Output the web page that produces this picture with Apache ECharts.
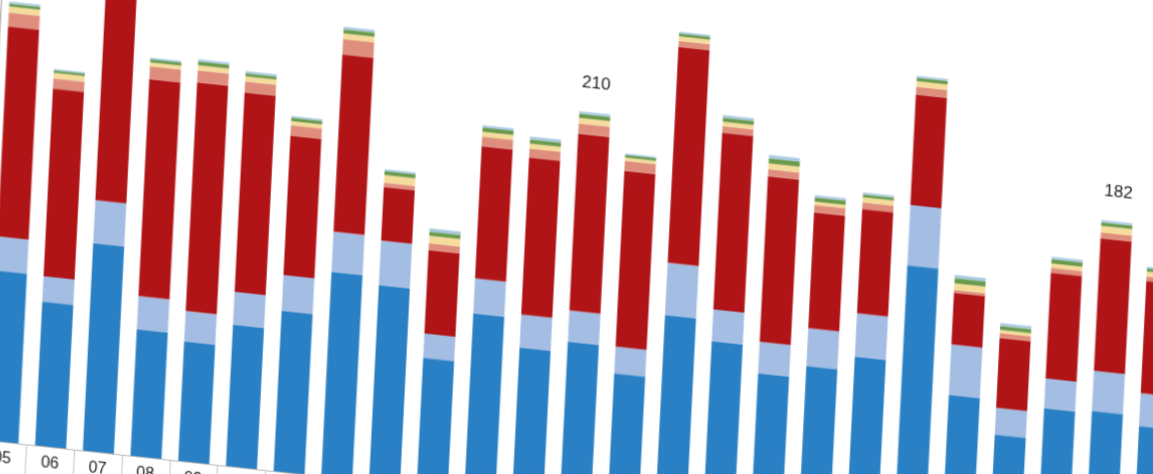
<!DOCTYPE html>
<html>
<head>
<meta charset="utf-8">
<script src="https://cdn.jsdelivr.net/npm/echarts@6/dist/echarts.min.js"></script>
<style>
  html, body { margin: 0; padding: 0; background: #ffffff; overflow: hidden; width: 1153px; height: 474px; }
  #chart {
    position: absolute; left: 0; top: 0;
    width: 1260px; height: 680px;
    transform-origin: 0 0;
    transform: matrix(1, 0.108, -0.05, 1, -30.05, -183.2);
  }
</style>
</head>
<body>
<div id="chart"></div>
<script>
// Categories (months)
var months = ["05","06","07","08","09","10","11","12","01","02","03","04",
              "05","06","07","08","09","10","11","12","01","02","03","04","05"];

// Stacked series, bottom to top
var blueVals      = [91.2, 77.3, 111.3, 67.8, 64.0, 76.0, 86.0, 109.9, 105.5, 69.2, 95.8, 80.1, 86.0, 71.9, 106.0, 94.8, 80.2, 86.9, 94.7, 146.7, 79.6, 61.2, 78.0, 79.5, 74.0];
var lightBlueVals = [18.3, 13.6, 23.3, 17.9, 16.5, 17.6, 19.4, 21.5, 23.9, 13.1, 18.8, 17.9, 17.0, 14.4, 28.2, 17.0, 17.0, 20.3, 23.3, 32.3, 27.3, 14.4, 16.1, 21.5, 17.6];
var redVals       = [112.9, 100.9, 122.0, 116.7, 122.8, 107.2, 74.7, 95.3, 29.0, 44.8, 71.1, 84.2, 95.0, 94.4, 115.8, 95.0, 89.0, 62.2, 56.1, 59.5, 27.8, 37.3, 56.8, 71.0, 60.4];
var salmonVals    = [7.5, 5.4, 7.0, 6.8, 6.6, 5.9, 5.8, 8.2, 2.2, 3.6, 5.1, 5.0, 5.5, 5.4, 3.4, 3.5, 3.8, 4.1, 3.6, 4.1, 1.4, 2.7, 2.7, 3.3, 2.4];
var yellowVals    = [3.2, 3.0, 3.0, 2.2, 2.7, 2.7, 2.2, 3.1, 4.1, 4.1, 2.7, 2.7, 3.0, 1.8, 2.4, 2.4, 3.1, 1.8, 2.7, 3.0, 3.6, 1.8, 2.3, 3.6, 2.7];
var greenVals     = [1.6, 1.3, 1.5, 1.5, 2.0, 1.7, 1.8, 2.2, 2.0, 2.2, 2.2, 2.3, 2.2, 1.4, 1.6, 2.2, 2.7, 2.2, 1.6, 1.8, 2.7, 2.2, 2.2, 1.9, 1.6];
var tealVals      = [1.1, 0.8, 1.0, 1.0, 1.2, 1.1, 1.0, 1.4, 1.1, 1.8, 1.3, 1.5, 1.3, 0.8, 0.9, 1.4, 1.8, 1.3, 1.0, 1.1, 1.8, 1.5, 1.4, 1.2, 1.0];

// Bars whose total is written above them
var labelledIdx = [12, 23];

var layers = [
  { name: "A", data: blueVals,      color: "#2a80c4" },
  { name: "B", data: lightBlueVals, color: "#a3bde3" },
  { name: "C", data: redVals,       color: "#b01417" },
  { name: "D", data: salmonVals,    color: "#df8e7d" },
  { name: "E", data: yellowVals,    color: "#f6dc9c" },
  { name: "F", data: greenVals,     color: "#6a9a4c" },
  { name: "G", data: tealVals,      color: "#a8cbe0" }
];

var FONT = "'Liberation Sans Narrow', 'Liberation Sans', Arial, sans-serif";

function totalAt(i) {
  var s = 0;
  layers.forEach(function (l) { s += l.data[i]; });
  return Math.round(s);
}

var series = layers.map(function (l, li) {
  var isTop = li === layers.length - 1;
  return {
    name: l.name,
    type: "bar",
    stack: "total",
    barWidth: 31,
    itemStyle: { color: l.color },
    emphasis: { disabled: true },
    data: l.data.map(function (v, i) {
      if (isTop && labelledIdx.indexOf(i) >= 0) {
        return {
          value: v,
          label: {
            show: true,
            position: "top",
            distance: 21,
            formatter: function () { return String(totalAt(i)); },
            fontFamily: FONT,
            fontSize: 17,
            color: "#222"
          }
        };
      }
      return v;
    })
  };
});

var chart = echarts.init(document.getElementById("chart"));
chart.setOption({
  animation: false,
  backgroundColor: "#ffffff",
  grid: { left: 40, top: 60, width: 1192.5, height: 558 },
  xAxis: {
    type: "category",
    data: months,
    axisLine: { show: true, lineStyle: { color: "#b8b8b8", width: 1 } },
    axisTick: { show: true, alignWithLabel: false, length: 40, lineStyle: { color: "#c4c4c4" } },
    axisLabel: { margin: 9, fontSize: 16, color: "#222", fontFamily: FONT }
  },
  yAxis: {
    type: "value",
    min: 0,
    max: 300,
    axisLine: { show: true, lineStyle: { color: "#9a9a9a" } },
    axisTick: { show: false },
    axisLabel: { show: false },
    splitLine: { show: false }
  },
  series: series
});
</script>
</body>
</html>
